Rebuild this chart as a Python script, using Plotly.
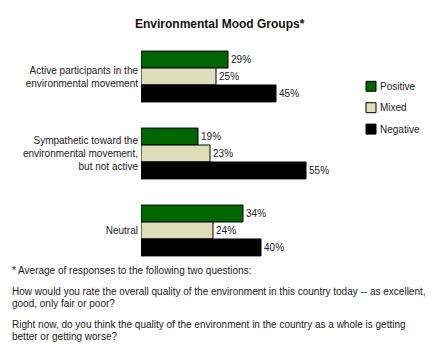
import plotly.graph_objects as go

# ---- data ----
categories = [
    "Active participants in the<br>environmental movement",
    "Sympathetic toward the<br>environmental movement,<br>but not active",
    "Neutral",
]
series_names = ["Positive", "Mixed", "Negative"]
positive = [29, 19, 34]
mixed = [25, 23, 24]
negative = [45, 55, 40]
title_text = "Environmental Mood Groups*"
footnote_lines = [
    "* Average of responses to the following two questions:",
    "How would you rate the overall quality of the environment in this country today -- as excellent,",
    "good, only fair or poor?",
    "Right now, do you think the quality of the environment in the country as a whole is getting",
    "better or getting worse?",
]

# ---- styling / layout geometry ----
W, H = 440, 350
colors = ["#006600", "#DDDDB9", "#000000"]
FONT = "Liberation Sans, Arial, sans-serif"
L, R_PLOT = 141, 180          # plot left edge (px) and width (px)
T, B_PLOT = 37.5, 232         # plot top (px) and height (px)
XMAX = 60

def px_x(x):
    return (x - L) / R_PLOT

def px_y(y):
    return (T + B_PLOT - y) / B_PLOT

fig = go.Figure()
for name, vals, col in zip(series_names, [positive, mixed, negative], colors):
    fig.add_trace(go.Bar(
        y=categories, x=vals, name=name, orientation="h",
        marker=dict(color=col, line=dict(color="#000000", width=1)),
        texttemplate="%{x}%", textposition="outside", cliponaxis=False,
        constraintext="none",
        textfont=dict(family=FONT, size=10, color="#222222"),
        showlegend=False, hoverinfo="skip",
    ))

shapes = []
annotations = []
# custom legend
leg_y = [86, 107.5, 129]
for name, col, yc in zip(series_names, colors, leg_y):
    shapes.append(dict(type="rect", xref="paper", yref="paper",
                       x0=px_x(366), x1=px_x(376), y0=px_y(yc + 5), y1=px_y(yc - 5),
                       fillcolor=col, line=dict(color="#000000", width=1)))
    annotations.append(dict(text=name, xref="paper", yref="paper",
                            x=px_x(378), y=px_y(yc), xanchor="left", yanchor="middle",
                            showarrow=False, font=dict(family=FONT, size=10, color="#222222")))

# title
annotations.append(dict(text="<b>" + title_text + "</b>", xref="paper", yref="paper",
                        x=px_x(220), y=px_y(23), xanchor="center", yanchor="middle",
                        showarrow=False, font=dict(family=FONT, size=12, color="#111111")))

# footnotes
foot_y = [271, 292, 304, 325, 337]
for txt, yc in zip(footnote_lines, foot_y):
    annotations.append(dict(text=txt, xref="paper", yref="paper",
                            x=px_x(10), y=px_y(yc), xanchor="left", yanchor="middle",
                            showarrow=False, font=dict(family=FONT, size=10, color="#222222")))

fig.update_layout(
    width=W, height=H,
    margin=dict(l=L, r=W - L - R_PLOT, t=T, b=H - T - B_PLOT, pad=0),
    paper_bgcolor="white", plot_bgcolor="white",
    barmode="group", bargap=0.34, bargroupgap=0,
    xaxis=dict(range=[0, XMAX], visible=False, fixedrange=True),
    yaxis=dict(autorange="reversed", showgrid=False, zeroline=False, showline=False,
               ticks="", tickfont=dict(family=FONT, size=10, color="#222222"),
               ticklabelstandoff=2, fixedrange=True),
    shapes=shapes, annotations=annotations,
    showlegend=False,
)

fig.write_html("out.html")
